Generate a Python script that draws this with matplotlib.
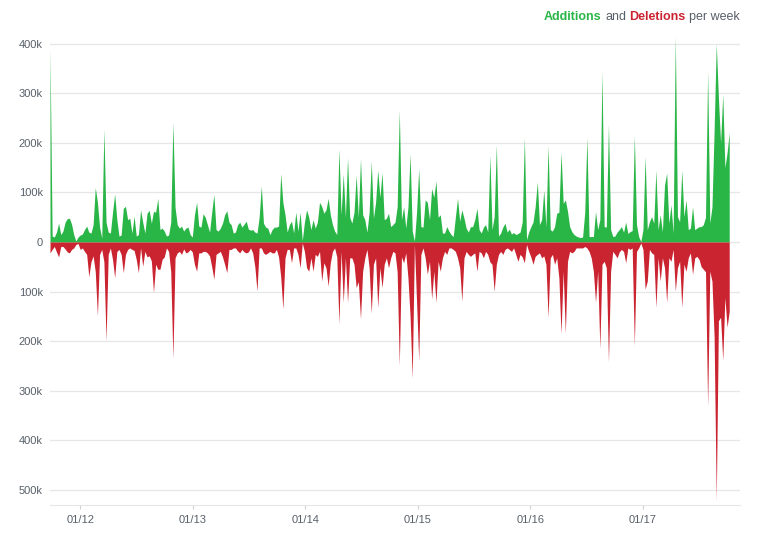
import numpy as np
import pandas as pd
import matplotlib
matplotlib.use('Agg')
import matplotlib.pyplot as plt
import matplotlib.dates as mdates
from matplotlib.ticker import FuncFormatter

plt.rcParams['font.family'] = ['Liberation Sans', 'DejaVu Sans']

# weekly code frequency, values in thousands of lines
start_week = '2011-09-25'

additions_k = [
    # late 2011 - 2012
    390, 12, 10, 20, 38, 15, 22, 40, 47, 48, 36, 15, 2, 10, 14, 16, 25, 32, 20, 18,
    35, 110, 80, 30, 8, 228, 40, 20, 18, 60, 97, 45, 12, 14, 68, 72, 45, 48, 18, 52,
    12, 15, 65, 40, 18, 58, 64, 38, 62, 60, 88, 25,
    28, 22, 12, 14, 40, 241, 70, 35, 28, 32, 22, 28, 30, 15, 10, 55, 80, 32, 30, 57,
    50, 35, 20, 60, 96, 25, 22, 28, 38, 55, 63, 40, 35, 18, 20, 35, 40, 30, 36, 42,
    26, 24, 25, 20, 18, 50, 113, 38, 30, 28, 15, 25, 30,
    # 2014
    30, 32, 138, 80, 55, 20, 35, 42, 18, 60, 22, 60, 3, 40, 65, 50, 25, 45, 28, 40,
    80, 72, 58, 65, 88, 55, 35, 22, 15, 188, 55, 137, 50, 170, 50, 38, 60, 135, 50, 168,
    55, 45, 20, 60, 163, 48, 80, 145, 90, 140, 45, 48, 58, 31,
    # 2015
    35, 40, 71, 266, 45, 71, 28, 70, 178, 22, 2, 60, 148, 31, 30, 85, 80, 45, 108, 90,
    123, 50, 55, 18, 18, 31, 22, 15, 11, 50, 88, 42, 65, 48, 28, 20, 31, 31, 45, 68,
    25, 18, 30, 35, 20, 175, 25, 51, 196, 12, 18, 30, 38,
    # 2016
    20, 26, 16, 19, 15, 17, 20, 40, 211, 5, 20, 31, 40, 71, 121, 35, 45, 105, 30, 195,
    25, 22, 31, 58, 60, 181, 78, 85, 62, 31, 21, 15, 12, 10, 9, 10, 60, 211, 11, 11,
    11, 61, 25, 45, 345, 31, 30, 238, 25, 11, 12, 20, 25,
    # 2017
    31, 20, 40, 17, 21, 23, 215, 35, 11, 1, 25, 173, 25, 41, 51, 38, 145, 25, 55, 21,
    115, 139, 38, 75, 18, 415, 51, 41, 145, 51, 85, 25, 28, 71, 25, 28, 31, 31, 35, 50,
    345, 38, 71, 225, 400, 290, 200, 298, 150, 180, 221,
]

deletions_k = [
    22, 15, 9, 20, 30, 9, 9, 14, 20, 22, 15, 12, 5, 3, 15, 12, 19, 25, 70, 40,
    28, 60, 149, 25, 15, 40, 200, 25, 12, 35, 72, 19, 15, 25, 62, 25, 15, 12, 15, 17,
    35, 62, 12, 49, 19, 30, 28, 38, 102, 45, 55, 55,
    35, 30, 12, 19, 60, 235, 32, 22, 19, 25, 14, 22, 20, 15, 20, 45, 59, 22, 22, 19,
    19, 22, 28, 50, 75, 25, 22, 19, 30, 45, 62, 15, 15, 12, 12, 18, 22, 15, 20, 22,
    20, 12, 22, 50, 99, 12, 12, 22, 25, 22, 19, 22, 22,
    15, 30, 70, 135, 32, 15, 15, 42, 12, 12, 25, 52, 2, 19, 52, 59, 32, 59, 25, 29,
    19, 79, 42, 52, 89, 42, 19, 12, 30, 165, 19, 122, 32, 122, 32, 32, 45, 92, 80, 155,
    59, 32, 15, 52, 144, 45, 32, 132, 52, 92, 45, 32, 52, 32,
    19, 22, 60, 249, 30, 42, 22, 72, 150, 275, 5, 120, 239, 25, 12, 32, 65, 39, 115, 59,
    122, 39, 59, 32, 19, 25, 12, 12, 15, 19, 32, 52, 119, 32, 19, 25, 29, 25, 22, 59,
    19, 22, 32, 19, 25, 40, 45, 99, 45, 25, 19, 25, 15,
    12, 15, 19, 12, 25, 39, 25, 30, 42, 5, 19, 30, 45, 29, 25, 22, 32, 28, 45, 152,
    32, 25, 45, 32, 72, 185, 59, 184, 39, 19, 22, 19, 12, 12, 12, 12, 9, 12, 19, 32,
    59, 122, 59, 215, 45, 39, 52, 242, 59, 19, 25, 32, 20,
    15, 19, 42, 12, 15, 12, 209, 19, 12, 2, 15, 95, 79, 15, 22, 25, 132, 32, 79, 32,
    52, 122, 32, 39, 15, 99, 52, 39, 132, 45, 59, 32, 22, 65, 32, 29, 35, 50, 55, 60,
    332, 59, 79, 192, 522, 159, 152, 239, 112, 172, 140,
]

weeks = pd.date_range(start_week, periods=len(additions_k), freq='7D')
adds = np.array(additions_k) * 1000
dels = -np.array(deletions_k) * 1000

green = '#2ab547'
red = '#cb2431'
grey = '#586069'

fig = plt.figure(figsize=(7.59, 5.44), dpi=100)
ax = fig.add_axes([50 / 759, 1 - 505 / 544, 690 / 759, 475 / 544])

ax.fill_between(weeks, adds, 0, color=green, lw=0)
ax.fill_between(weeks, dels, 0, color=red, lw=0)

ax.set_xlim(pd.Timestamp(start_week), pd.Timestamp(start_week) + pd.Timedelta(days=2240))
ax.set_ylim(-531000, 428000)

ax.set_yticks(np.arange(-500000, 400001, 100000))
ax.yaxis.set_major_formatter(FuncFormatter(lambda v, p: '0' if v == 0 else '%dk' % abs(v / 1000)))
ax.grid(axis='y', color='#e6e6e6', lw=0.9)
ax.set_axisbelow(True)

ax.xaxis.set_major_locator(mdates.YearLocator())
ax.xaxis.set_major_formatter(mdates.DateFormatter('%m/%y'))

for s in ['top', 'right', 'left']:
    ax.spines[s].set_visible(False)
ax.spines['bottom'].set_color('#e6e6e6')
ax.tick_params(axis='y', length=0, labelsize=8, labelcolor=grey, pad=5)
ax.tick_params(axis='x', length=3, color='#d0d0d0', labelsize=8, labelcolor=grey, pad=4)

# title, coloured word by word, right aligned
t4 = fig.text(740 / 759, 1 - 17 / 544, 'per week', ha='right', va='center', color=grey, fontsize=9)
t3 = ax.annotate('Deletions', xy=(0, 0.5), xycoords=t4, xytext=(-2.5, 0), textcoords='offset points',
                 ha='right', va='center', color=red, fontsize=9, fontweight='bold')
t2 = ax.annotate('and', xy=(0, 0.5), xycoords=t3, xytext=(-2.5, 0), textcoords='offset points',
                 ha='right', va='center', color=grey, fontsize=9)
t1 = ax.annotate('Additions', xy=(0, 0.5), xycoords=t2, xytext=(-2.5, 0), textcoords='offset points',
                 ha='right', va='center', color=green, fontsize=9, fontweight='bold')

plt.savefig('out.png', dpi=100)
